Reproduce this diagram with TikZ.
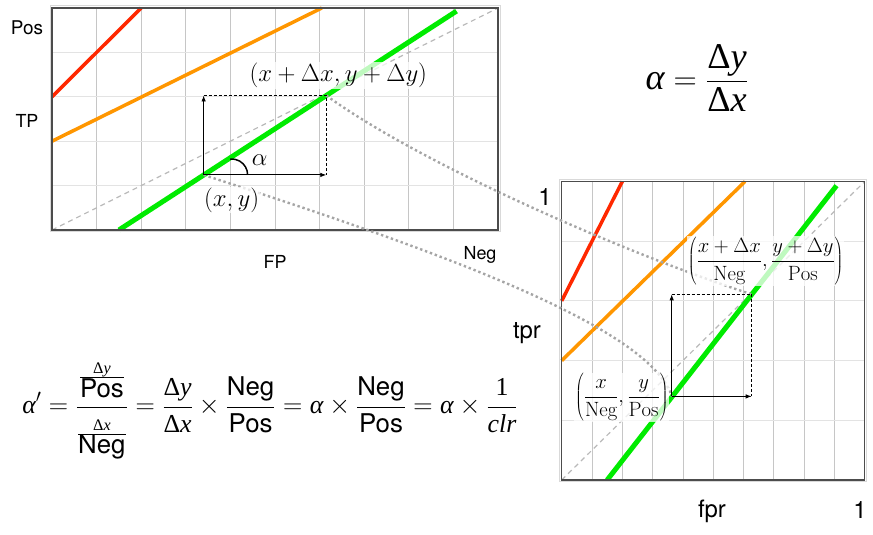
\documentclass[tikz,border=0pt]{standalone}
\usepackage{fontspec}
\newfontfamily\hv{TeX Gyre Heros}
\newfontfamily\tms{Liberation Serif}
\usetikzlibrary{arrows.meta, positioning}
\usepackage{xcolor}

\definecolor{rocred}{RGB}{255,40,0}
\definecolor{rocorange}{RGB}{255,150,0}
\definecolor{rocgreen}{RGB}{0,235,0}
\definecolor{linkgray}{RGB}{165,165,165}

\tikzset{
  gridv/.style={draw=gray!45, line width=0.8bp},
  gridh/.style={draw=gray!22, line width=0.8bp},
  frame/.style={draw=black!70, line width=1.3bp},
  chance/.style={draw=gray!55, line width=1.2bp, dash pattern=on 5bp off 4bp},
  iso/.style={line width=3.5bp},
  link/.style={draw=linkgray, line width=2.4bp, dash pattern=on 2.4bp off 2.8bp},
  delta/.style={-{Latex[length=6bp,width=4.5bp]}, line width=0.9bp},
  guide/.style={line width=0.8bp, dash pattern=on 3bp off 2bp},
  axlabel/.style={font=\hv\fontsize{18}{20}\selectfont},
  ratelabel/.style={font=\hv\fontsize{24}{26}\selectfont},
  ptlabel/.style={fill=white, fill opacity=0.75, text opacity=1, inner sep=1bp},
}

\newcommand\tvar[1]{\mbox{\tms\itshape #1}}
\newcommand\hword[1]{\mbox{\hv #1}}
\newcommand\tdelta[1]{\mbox{\tms Δ\itshape #1}}
\newcommand\sdelta[1]{\mbox{\tms\fontsize{15}{18}\selectfont Δ\itshape #1}}

% one ROC panel in cell units (10 x 5)
\newcommand\rocgrid{%
  \foreach \i in {1,...,9} \draw[gridv] (\i,0) -- (\i,5);
  \foreach \j in {1,...,4} \draw[gridh] (0,\j) -- (10,\j);
  \draw[chance] (0,0) -- (10,5);
  \draw[iso, rocred] (0,3) -- (2,5);
  \draw[iso, rocorange] (0,2) -- (6.05,5);
  \draw[iso, rocgreen, line width=5bp] (1.5,0) -- (9.07,4.93);
  \draw[gray!30, line width=1bp] ([shift={(-2bp,-2bp)}]0,0) rectangle ([shift={(2bp,2bp)}]10,5);
  \draw[frame] (0,0) rectangle (10,5);
}

\begin{document}
\begin{tikzpicture}[x=1bp, y=1bp]
\useasboundingbox (0,0) rectangle (873,535);

% counts
\begin{scope}[shift={(52,305)}, x=44.6bp, y=44.4bp]
  \rocgrid
  \coordinate (xyL) at (3.4,1.24);
  \coordinate (dxyL) at (6.15,3.03);
\end{scope}

% rates
\begin{scope}[shift={(561.7,55)}, x=30.3bp, y=59.7bp]
  \rocgrid
  \coordinate (xyR) at (3.63,1.40);
  \coordinate (dxyR) at (6.27,3.11);
\end{scope}

\draw[link] (dxyL) .. controls +(-36:116bp) and +(162:134bp) .. (dxyR);
\draw[link] (xyL) .. controls +(-18:229bp) and +(107:75bp) .. (xyR);

\foreach \p/\q in {xyL/dxyL, xyR/dxyR} {
  \draw[delta] (\p) -- (\p |- \q);
  \draw[delta] (\p) -- (\p -| \q);
  \draw[guide] (\p |- \q) -- (\q) -- (\p -| \q);
}
\draw[line width=1.5bp] ([xshift=44bp]xyL) arc[start angle=0, end angle=95, radius=16bp];
\node (alpha) at ([xshift=56bp, yshift=15bp]xyL) {\fontsize{24}{28}\selectfont$\alpha$};

\node[ptlabel, font=\fontsize{24}{28}\selectfont] (xylab) at ([xshift=28bp, yshift=-25bp]xyL) {$(x,y)$};
\node[ptlabel, font=\fontsize{24}{28}\selectfont] (dxylab) at ([xshift=12bp, yshift=20bp]dxyL) {$(x+\Delta x, y+\Delta y)$};
\node[ptlabel, font=\fontsize{20.74}{24}\selectfont, left=2bp of xyR, yshift=-1bp] (xyRlab)
  {$\displaystyle\left(\frac{x}{\mathrm{Neg}},\frac{y}{\mathrm{Pos}}\right)$};
\node[ptlabel, font=\fontsize{20.74}{24}\selectfont] (dxyRlab) at ([xshift=14bp, yshift=33bp]dxyR)
  {$\displaystyle\left(\frac{x+\Delta x}{\mathrm{Neg}},\frac{y+\Delta y}{\mathrm{Pos}}\right)$};

\node[axlabel, font=\hv\fontsize{19}{21}\selectfont] (pos) at (27,507) {Pos};
\node[axlabel] (tp) at (27,414) {TP};
\node[axlabel] (fp) at (275,273) {FP};
\node[axlabel] (neg) at (480,280) {Neg};
\node[ratelabel] (one) at (545,338) {1};
\node[ratelabel] (tpr) at (527,202) {tpr};
\node[ratelabel] (fpr) at (712,24) {fpr};
\node[ratelabel] (onex) at (860,25) {1};

\node[scale=1.3, transform shape] (slope) at (697,457) {\fontsize{28}{32}\selectfont
  $\displaystyle\tvar{α} = \frac{\tdelta{y}}{\tdelta{x}}$};
\node[scale=1.08, transform shape] (chain) at (270,124) {\fontsize{24}{28}\selectfont
  $\displaystyle\tvar{α}' = \frac{\frac{\sdelta{y}}{\hword{Pos}\rule[-8bp]{0pt}{8bp}}}{\frac{\rule{0pt}{20bp}\sdelta{x}}{\hword{Neg}}}
  = \frac{\tdelta{y}}{\tdelta{x}} \times \frac{\hword{Neg}}{\hword{Pos}}
  = \tvar{α} \times \frac{\hword{Neg}}{\hword{Pos}}
  = \tvar{α} \times \frac{\mbox{\tms 1}}{\tvar{clr}}$};
\end{tikzpicture}
\end{document}
